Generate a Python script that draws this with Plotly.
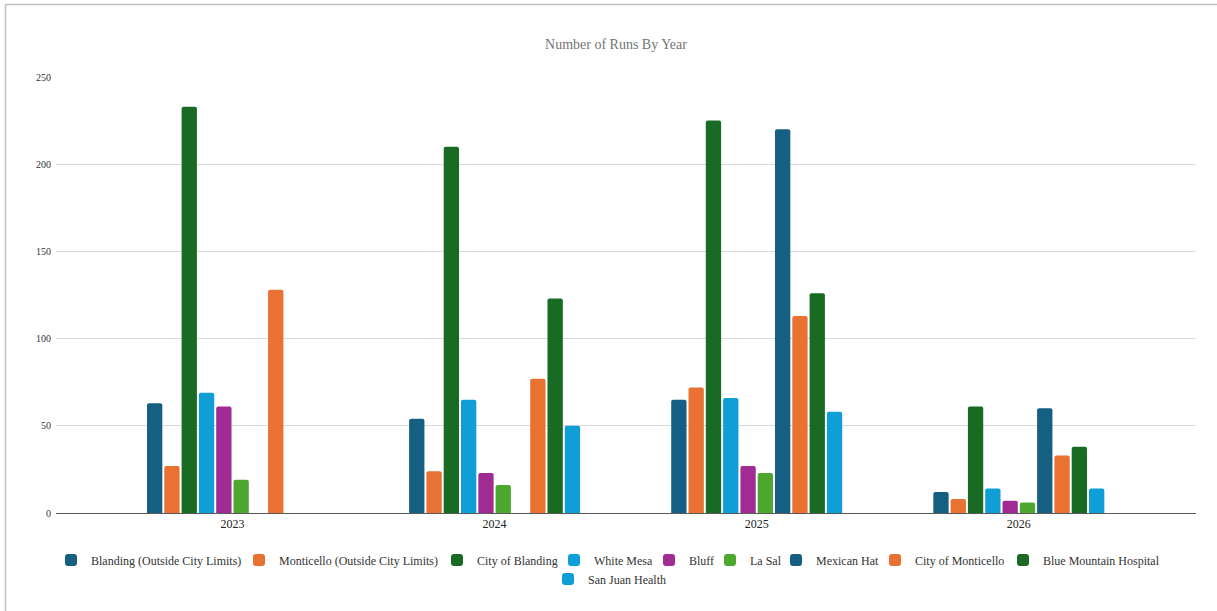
import plotly.graph_objects as go

years = ["2023", "2024", "2025", "2026"]

series_names = [
    "Blanding (Outside City Limits)",
    "Monticello (Outside City Limits)",
    "City of Blanding",
    "White Mesa",
    "Bluff",
    "La Sal",
    "Mexican Hat",
    "City of Monticello",
    "Blue Mountain Hospital",
    "San Juan Health",
]

blanding_outside = [63, 54, 65, 12]
monticello_outside = [27, 24, 72, 8]
city_of_blanding = [233, 210, 225, 61]
white_mesa = [69, 65, 66, 14]
bluff = [61, 23, 27, 7]
la_sal = [19, 16, 23, 6]
mexican_hat = [None, None, 220, 60]
city_of_monticello = [128, 77, 113, 33]
blue_mountain_hospital = [None, 123, 126, 38]
san_juan_health = [None, 50, 58, 14]

series_values = [
    blanding_outside, monticello_outside, city_of_blanding, white_mesa, bluff,
    la_sal, mexican_hat, city_of_monticello, blue_mountain_hospital, san_juan_health,
]

colors = ["#156082", "#E97132", "#196B24", "#0F9ED5", "#A02B93",
          "#4EA72E", "#156082", "#E97132", "#196B24", "#0F9ED5"]

# legend entry placement (text start x, row centre y) in pixels
legend_text_x = [89, 277, 475, 592, 687, 748, 814, 913, 1041, 586]
legend_row_y = [560, 560, 560, 560, 560, 560, 560, 560, 560, 579]

FONT = "Liberation Serif, Times New Roman, serif"
W, H = 1217, 611
ML, MR, MT, MB = 56, 21, 77, 98

fig = go.Figure()
legend_layouts = {}
for i, (name, vals) in enumerate(zip(series_names, series_values)):
    lid = "legend" if i == 0 else f"legend{i + 1}"
    fig.add_trace(go.Bar(
        x=years, y=vals, name=name,
        marker=dict(color=colors[i], line=dict(width=0)),
        legend=lid,
    ))
    legend_layouts[lid] = dict(
        orientation="h", xref="container", yref="container",
        x=(legend_text_x[i] - 38) / W, xanchor="left",
        y=1 - legend_row_y[i] / H, yanchor="middle",
        font=dict(family=FONT, size=12, color="#333333"),
        bgcolor="rgba(0,0,0,0)", borderwidth=0,
    )

pw = W - ML - MR
ph = H - MT - MB

def px_x(x):
    return (x - ML) / pw

def px_y(y):
    return (H - MB - y) / ph

fig.update_layout(
    width=W, height=H,
    margin=dict(l=ML, r=MR, t=MT, b=MB, autoexpand=False),
    paper_bgcolor="white", plot_bgcolor="white",
    font=dict(family=FONT, color="#333333"),
    barmode="group", bargap=0.34, bargroupgap=0.115, barcornerradius=2,
    title=dict(text="Number of Runs By Year", x=616 / W, xanchor="center",
               xref="container", yref="container", y=1 - 44 / H, yanchor="middle",
               font=dict(family=FONT, size=14, color="#757575")),
    xaxis=dict(showline=True, linecolor="#595959", linewidth=1, ticks="",
               range=[-0.6734, 3.676],
               tickfont=dict(family=FONT, size=12, color="#222222"),
               showgrid=False, zeroline=False),
    yaxis=dict(range=[0, 250], dtick=50, showgrid=True, gridcolor="#d9d9d9",
               gridwidth=1, zeroline=False, showline=False, ticks="",
               ticklabelstandoff=4,
               tickfont=dict(family=FONT, size=10, color="#333333")),
    showlegend=True,
    shapes=[
        dict(type="line", xref="paper", yref="paper",
             x0=px_x(5), x1=px_x(W + 5), y0=px_y(4.5), y1=px_y(4.5),
             line=dict(color="#bfbfbf", width=1.5)),
        dict(type="line", xref="paper", yref="paper",
             x0=px_x(5.5), x1=px_x(5.5), y0=px_y(4), y1=px_y(H + 5),
             line=dict(color="#bfbfbf", width=1.5)),
    ],
    **legend_layouts,
)

fig.write_html("out.html")
